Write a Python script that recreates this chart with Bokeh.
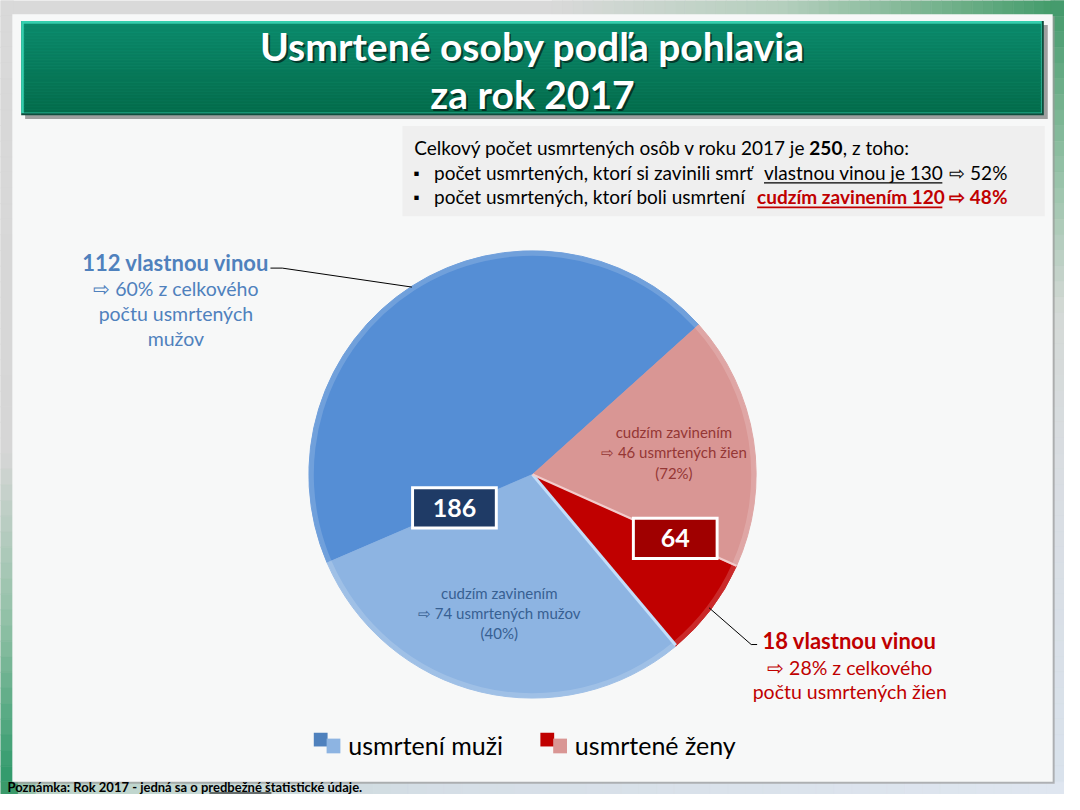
import numpy as np
from bokeh.plotting import figure
from bokeh.models import Range1d, ColumnDataSource
from bokeh.embed import file_html
from bokeh.resources import INLINE
from bokeh.core.properties import value

# ---------------- data ----------------
year = 2017
groups = ["muži", "muži", "ženy", "ženy"]
causes = ["vlastnou vinou", "cudzím zavinením", "vlastnou vinou", "cudzím zavinením"]
counts = [112, 74, 18, 46]
slice_colors = ["#558ED5", "#8DB4E2", "#C00000", "#D99694"]
legend_labels = ["usmrtení muži", "usmrtené ženy"]
legend_dark = ["#4F81BD", "#C00000"]
legend_light = ["#8DB4E2", "#D99694"]

total = sum(counts)
men_total = counts[0] + counts[1]
women_total = counts[2] + counts[3]
own_total = counts[0] + counts[2]
other_total = counts[1] + counts[3]

FONT = "Lato"

p = figure(width=1064, height=794, x_range=Range1d(0, 1080), y_range=Range1d(0, 810),
           output_backend="svg", toolbar_location=None, x_axis_type=None, y_axis_type=None,
           min_border=0)
p.min_border_left = p.min_border_right = p.min_border_top = p.min_border_bottom = 0
p.grid.visible = False
p.outline_line_color = None
p.background_fill_color = "#d9d9d9"
p.border_fill_color = "#d9d9d9"


def Y(sy):
    return 810 - sy


def hex2rgb(h):
    h = h.lstrip("#")
    return tuple(int(h[i:i + 2], 16) for i in (0, 2, 4))


def interp(stops, t):
    for (t0, c0), (t1, c1) in zip(stops[:-1], stops[1:]):
        if t <= t1:
            f = 0 if t1 == t0 else (t - t0) / (t1 - t0)
            a, b = hex2rgb(c0), hex2rgb(c1)
            r = [int(round(a[k] + (b[k] - a[k]) * f)) for k in range(3)]
            return "#%02x%02x%02x" % tuple(r)
    return stops[-1][1]


def grad_rect(x0, y0, x1, y1, stops, n=40, vertical=True):
    L, Rr, T, B, C = [], [], [], [], []
    for i in range(n):
        t0, t1 = i / n, (i + 1) / n
        tm = (t0 + t1) / 2
        if vertical:
            L.append(x0); Rr.append(x1)
            T.append(Y(y0 + (y1 - y0) * t0)); B.append(Y(y0 + (y1 - y0) * t1))
        else:
            L.append(x0 + (x1 - x0) * t0); Rr.append(x0 + (x1 - x0) * t1)
            T.append(Y(y0)); B.append(Y(y1))
        C.append(interp(stops, tm))
    p.quad(left=L, right=Rr, top=T, bottom=B, fill_color=C, line_color=C, line_width=0.6)


def rect(x0, y0, x1, y1, color, alpha=1.0):
    p.quad(left=[x0], right=[x1], top=[Y(y0)], bottom=[Y(y1)], fill_color=color,
           fill_alpha=alpha, line_color=None)


def txt(x, sy, s, size=17, color="#000000", bold=False, align="left", alpha=1.0):
    p.text(x=[x], y=[Y(sy)], text=[s], text_font=value(FONT), text_font_size=f"{size}px",
           text_font_style="bold" if bold else "normal", text_color=color,
           text_align=align, text_baseline="middle", text_alpha=alpha)


def hline(x0, x1, sy, color, width=1.2):
    p.line(x=[x0, x1], y=[Y(sy), Y(sy)], line_color=color, line_width=width)


# ---------------- slide background ----------------
grad_rect(560, 0, 1080, 15, [(0, "#d9d9d9"), (0.45, "#b4cfbd"), (0.8, "#6cae86"), (1, "#3f9a68")], n=50, vertical=False)
grad_rect(1066, 0, 1080, 797, [(0, "#41996a"), (0.2, "#8fbfa2"), (0.4, "#d4d9d6"), (0.6, "#d9dde2"), (1, "#d9e2ec")], n=50)
grad_rect(0, 0, 13, 797, [(0, "#d9d9d9"), (0.58, "#d6d6d6"), (0.8, "#8fc0a5"), (1, "#2f996a")], n=50)
grad_rect(0, 797, 1080, 810, [(0, "#3a9a6a"), (0.012, "#3a9a6a"), (0.03, "#b9d3c6"), (0.4, "#d5dee6"), (1, "#dfe6f0")], n=60, vertical=False)

# panel
rect(14, 16, 1070, 799, "#9a9a9a", 0.7)
rect(12, 14, 1068, 797, "#f7f8f8")

# ---------------- title ----------------
rect(25, 25, 1063, 121, "#555555", 0.55)
rect(21, 21, 1059, 117, "#0e4d3c")
rect(21, 21, 1057, 115, "#36cfae")
grad_rect(24, 24, 1056, 114, [(0, "#0b8a6b"), (1, "#046b4b")], n=30)
title_lines = ["Usmrtené osoby podľa pohlavia", f"za rok {year}"]
for s, sy in zip(title_lines, [46, 95]):
    txt(542, sy + 2, s, size=39, color="#000000", bold=True, align="center", alpha=0.55)
    txt(540, sy, s, size=39, color="#ffffff", bold=True, align="center")

# ---------------- info box ----------------
FS = 19
rect(408, 128, 1060, 220, "#efefef")
txt(420, 150, f"Celkový počet usmrtených osôb v roku {year} je ", FS)
txt(821, 150, f"{total}", FS, bold=True)
txt(855, 150, ", z toho:", FS)

txt(419, 175, "▪", 16)
txt(440, 175, "počet usmrtených, ktorí si zavinili smrť ", FS)
txt(775, 175, f"vlastnou vinou je {own_total}", FS)
hline(775, 956, 186, "#000000", 1.2)
txt(963, 175, f"⇨ {round(100 * own_total / total)}%", FS)

txt(419, 200, "▪", 16)
txt(440, 200, "počet usmrtených, ktorí boli usmrtení ", FS)
txt(768, 200, f"cudzím zavinením {other_total}", FS, color="#C00000", bold=True)
hline(768, 956, 211, "#C00000", 1.8)
txt(963, 200, f"⇨ {round(100 * other_total / total)}%", FS, color="#C00000", bold=True)

# ---------------- pie ----------------
R = 227
cx, cy = 540, Y(483.5)
start0 = np.deg2rad(42)
frac = np.array(counts) / total
ends = start0 + 2 * np.pi * np.cumsum(frac)
starts = ends - 2 * np.pi * frac
mids = (starts + ends) / 2

src = ColumnDataSource(dict(start=starts, end=ends, color=slice_colors))
p.wedge(x=cx, y=cy, radius=R, start_angle="start", end_angle="end", direction="anticlock",
        fill_color="color", line_color="color", line_width=0.8, source=src)
# bevel rim
p.annular_wedge(x=cx, y=cy, inner_radius=R - 5, outer_radius=R, start_angle="start", end_angle="end",
                direction="anticlock", fill_color="white", fill_alpha=0.16, line_color=None, source=src)
# highlight edges on the women slices
for ang, col, w in [(ends[1], "#c3defa", 3.0), (ends[2], "#f2cccc", 2.2)]:
    p.line(x=[cx, cx + R * np.cos(ang)], y=[cy, cy + R * np.sin(ang)], line_color=col, line_width=w)

# inner labels (cudzím zavinením)
inner_cols = {1: "#376092", 3: "#953735"}
inner_words = {1: "mužov", 3: "žien"}
group_tot = {1: men_total, 3: women_total}
for i in (1, 3):
    lx = cx + 0.64 * R * np.cos(mids[i])
    ly = cy + 0.64 * R * np.sin(mids[i])
    lines = [causes[i], f"⇨ {counts[i]} usmrtených {inner_words[i]}", f"({round(100 * counts[i] / group_tot[i])}%)"]
    for k, s in enumerate(lines):
        p.text(x=[lx], y=[ly + 20.5 - 20.5 * k], text=[s], text_font=value(FONT), text_font_size="15px",
               text_color=inner_cols[i], text_align="center", text_baseline="middle")

# group total boxes at the inner split of each group
for ang, rf, tot, fill in [(ends[0], 0.38, men_total, "#1F3B66"), (ends[2], 0.70, women_total, "#A00000")]:
    bx = cx + rf * R * np.cos(ang)
    by = cy + rf * R * np.sin(ang)
    p.rect(x=[bx], y=[by], width=88, height=44, fill_color="white", line_color=None)
    p.rect(x=[bx], y=[by], width=82, height=38, fill_color=fill, line_color=None)
    p.text(x=[bx], y=[by], text=[str(tot)], text_font=value(FONT), text_font_size="25px",
           text_font_style="bold", text_color="white", text_align="center", text_baseline="middle")

# leader lines
a0 = mids[0]
p.line(x=[cx + R * np.cos(a0), 286, 274], y=[cy + R * np.sin(a0), Y(273), Y(273)], line_color="#000000", line_width=1)
a2 = mids[2]
p.line(x=[cx + (R - 2) * np.cos(a2), 762, 768], y=[cy + (R - 2) * np.sin(a2), Y(657), Y(657)], line_color="#000000", line_width=1)

# outer labels (vlastnou vinou)
men_col = "#4F81BD"
txt(178, 267, f"{counts[0]} {causes[0]}", 22, color=men_col, bold=True, align="center")
txt(178, 294, f"⇨ {round(100 * counts[0] / men_total)}% z celkového", 19.5, color=men_col, align="center")
txt(178, 319, "počtu usmrtených", 19.5, color=men_col, align="center")
txt(178, 345, "mužov", 19.5, color=men_col, align="center")

wom_col = "#C00000"
txt(862, 653, f"{counts[2]} {causes[2]}", 22, color=wom_col, bold=True, align="center")
txt(862, 680, f"⇨ {round(100 * counts[2] / women_total)}% z celkového", 19.5, color=wom_col, align="center")
txt(862, 705, "počtu usmrtených žien", 19.5, color=wom_col, align="center")

# ---------------- legend ----------------
for lx, lab, dk, lt in zip([318, 548], legend_labels, legend_dark, legend_light):
    rect(lx, 747, lx + 14, 761, dk)
    rect(lx + 13, 753, lx + 27, 768, lt)
    txt(lx + 35, 760, lab, 25, color="#000000")

# ---------------- footnote ----------------
txt(7, 802, f"Poznámka: Rok {year} - jedná sa o predbežné štatistické údaje.", 13, bold=True)
hline(212, 275, 808.5, "#000000", 1.1)

open("out.html", "w").write(file_html(p, INLINE))
